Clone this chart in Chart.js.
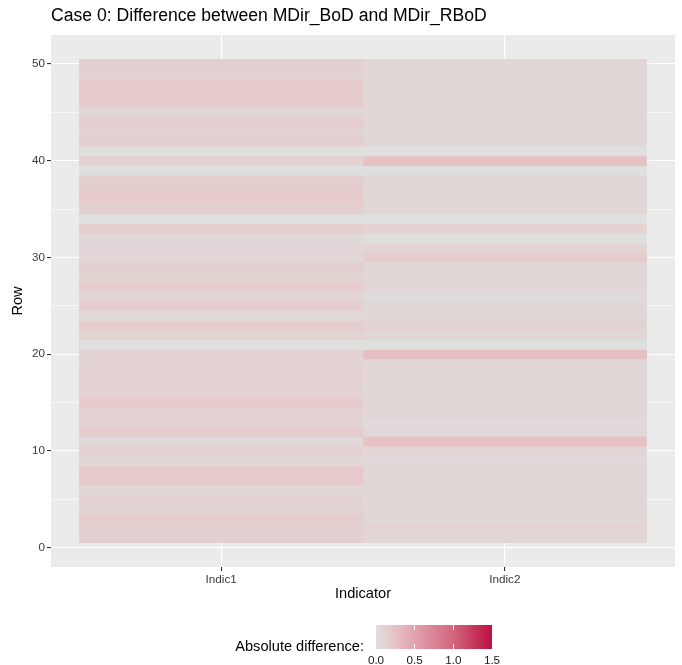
<!DOCTYPE html>
<html>
<head>
<meta charset="utf-8">
<script src="https://cdn.jsdelivr.net/npm/chart.js@4/dist/chart.umd.min.js"></script>
<style>
  html, body { margin:0; padding:0; background:#FFFFFF; }
  #wrap { position:relative; width:682px; height:665px; font-family:"Liberation Sans", Arial, sans-serif; }
  #c { position:absolute; left:0; top:0; }
  .txt { position:absolute; white-space:nowrap; }
</style>
</head>
<body>
<div id="wrap">
  <canvas id="c" width="682" height="665"></canvas>
  <div class="txt" id="title" style="left:51px; top:5px; font-size:17.6px; line-height:20px; color:#000;">Case 0: Difference between MDir_BoD and MDir_RBoD</div>
  <div class="txt" id="legTitle" style="left:0; width:364px; text-align:right; top:637px; font-size:14.6px; line-height:18px; color:#000;">Absolute difference:</div>
  <div id="legBar" style="position:absolute; left:376px; top:625px; width:116px; height:24px;"></div>
  <div id="legLabels"></div>
</div>
<script>
// ---- data ----
const indicators = ["Indic1", "Indic2"];
const rows = [1,2,3,4,5,6,7,8,9,10,11,12,13,14,15,16,17,18,19,20,21,22,23,24,25,
              26,27,28,29,30,31,32,33,34,35,36,37,38,39,40,41,42,43,44,45,46,47,48,49,50];
const indic1Diff = [0.13,0.13,0.16,0.11,0.12,0.07,0.18,0.18,0.07,0.12,
                    0.05,0.17,0.12,0.12,0.17,0.12,0.12,0.12,0.11,0.10,
                    0.00,0.11,0.15,0.06,0.14,0.09,0.15,0.09,0.13,0.08,
                    0.08,0.05,0.15,0.00,0.13,0.17,0.17,0.13,0.01,0.12,
                    0.00,0.14,0.11,0.14,0.08,0.17,0.17,0.17,0.11,0.13];
const indic2Diff = [0.07,0.10,0.07,0.07,0.07,0.07,0.07,0.07,0.05,0.07,
                    0.24,0.07,0.04,0.07,0.07,0.07,0.07,0.07,0.07,0.27,
                    0.00,0.07,0.11,0.07,0.07,0.03,0.07,0.07,0.07,0.17,
                    0.10,0.00,0.10,0.00,0.07,0.07,0.07,0.07,0.00,0.25,
                    0.00,0.07,0.07,0.07,0.07,0.07,0.07,0.07,0.07,0.07];
const yTickValues = [0,5,10,15,20,25,30,35,40,45,50];
const yTickLabels = ["0","","10","","20","","30","","40","","50"];
const legendTickValues = [0.0, 0.5, 1.0, 1.5];
const legendTickLabels = ["0.0", "0.5", "1.0", "1.5"];
const fillLimits = [0, 1.5];

// ---- colour scale ----
const colourStops = [
  [0.0, [223,223,223]],
  [0.1, [227,211,211]],
  [0.2, [230,199,201]],
  [0.3, [230,187,191]],
  [0.5, [226,163,174]],
  [1.0, [211,100,126]],
  [1.5, [186, 17, 64]]
];
function fillColour(v) {
  v = Math.max(fillLimits[0], Math.min(fillLimits[1], v));
  for (let i = 1; i < colourStops.length; i++) {
    const [v1, c1] = colourStops[i];
    const [v0, c0] = colourStops[i-1];
    if (v <= v1) {
      const t = (v - v0) / (v1 - v0);
      const c = c0.map((x, k) => Math.round(x + (c1[k] - x) * t));
      return `rgb(${c[0]},${c[1]},${c[2]})`;
    }
  }
  const c = colourStops[colourStops.length-1][1];
  return `rgb(${c[0]},${c[1]},${c[2]})`;
}

const seriesValues = [indic1Diff, indic2Diff];
const datasets = indicators.map((name, ci) => ({
  label: name,
  data: rows.map((r) => ({ x: [ci + 0.5, ci + 1.5], y: r })),
  backgroundColor: seriesValues[ci].map(fillColour),
  borderWidth: 0,
  inflateAmount: 0.3,
  grouped: false,
  barPercentage: 1,
  categoryPercentage: 1
}));

const panelBg = {
  id: 'panelBg',
  beforeDraw(chart) {
    const { ctx, chartArea: a } = chart;
    ctx.save();
    ctx.fillStyle = '#EBEBEB';
    ctx.fillRect(a.left, a.top, a.right - a.left, a.bottom - a.top);
    ctx.restore();
  }
};

const tickFont = { family: '"Liberation Sans", Arial, sans-serif', size: 11.7 };
const titleFont = { family: '"Liberation Sans", Arial, sans-serif', size: 14.6 };

new Chart(document.getElementById('c'), {
  type: 'bar',
  data: { datasets },
  plugins: [panelBg],
  options: {
    indexAxis: 'y',
    responsive: false,
    devicePixelRatio: 1,
    animation: false,
    layout: { padding: { left: 0, right: 7, top: 35, bottom: 62 } },
    plugins: { legend: { display: false }, tooltip: { enabled: false }, title: { display: false } },
    scales: {
      x: {
        type: 'linear',
        position: 'bottom',
        offset: false,
        min: 0.4, max: 2.6,
        afterBuildTicks: (s) => { s.ticks = indicators.map((_, i) => ({ value: i + 1 })); },
        afterFit: (s) => { s.height = 36; },
        ticks: {
          autoSkip: false, maxRotation: 0, padding: 2,
          color: '#3A3A3A', font: tickFont,
          callback: (v) => indicators[Math.round(v) - 1]
        },
        grid: { offset: false, color: '#FFFFFF', lineWidth: 1.1, tickColor: '#333333', tickLength: 4, drawTicks: true },
        border: { display: false },
        title: { display: true, text: 'Indicator', color: '#000000', font: titleFont, padding: { top: 0, bottom: 0 } }
      },
      y: {
        type: 'linear',
        position: 'left',
        offset: false,
        min: -2, max: 53,
        afterBuildTicks: (s) => { s.ticks = yTickValues.map(v => ({ value: v })); },
        afterFit: (s) => { s.width = 51; },
        ticks: {
          autoSkip: false, padding: 2,
          color: '#3A3A3A', font: tickFont,
          callback: (v) => yTickLabels[yTickValues.indexOf(v)]
        },
        grid: {
          offset: false,
          color: '#FFFFFF',
          lineWidth: (ctx) => (ctx.tick && ctx.tick.value % 10 === 0) ? 1.1 : 0.55,
          tickColor: (ctx) => (ctx.tick && ctx.tick.value % 10 === 0) ? '#333333' : 'rgba(0,0,0,0)',
          tickLength: 4, drawTicks: true
        },
        border: { display: false },
        title: { display: true, text: 'Row', color: '#000000', font: titleFont, padding: { top: 9, bottom: 0 } }
      }
    }
  }
});

// ---- colour bar legend ----
const bar = document.getElementById('legBar');
const grad = colourStops.map(([v, c]) => `rgb(${c[0]},${c[1]},${c[2]}) ${(v - fillLimits[0]) / (fillLimits[1] - fillLimits[0]) * 100}%`).join(', ');
bar.style.background = `linear-gradient(to right, ${grad})`;
const barLeft = 376, barWidth = 116, barTop = 625, barH = 24;
const labWrap = document.getElementById('legLabels');
legendTickValues.forEach((v, i) => {
  const x = barLeft + (v - fillLimits[0]) / (fillLimits[1] - fillLimits[0]) * barWidth;
  const lab = document.createElement('div');
  lab.className = 'txt';
  lab.textContent = legendTickLabels[i];
  lab.style.cssText += `left:${x - 20}px; width:40px; text-align:center; top:653px; font-size:11.7px; line-height:14px; color:#1A1A1A;`;
  labWrap.appendChild(lab);
  if (i > 0 && i < legendTickValues.length - 1) {
    [barTop, barTop + barH - 5].forEach(t => {
      const m = document.createElement('div');
      m.style.cssText = `position:absolute; left:${x - 0.5}px; top:${t}px; width:1px; height:5px; background:rgba(255,255,255,0.9);`;
      labWrap.appendChild(m);
    });
  }
});
</script>
</body>
</html>
